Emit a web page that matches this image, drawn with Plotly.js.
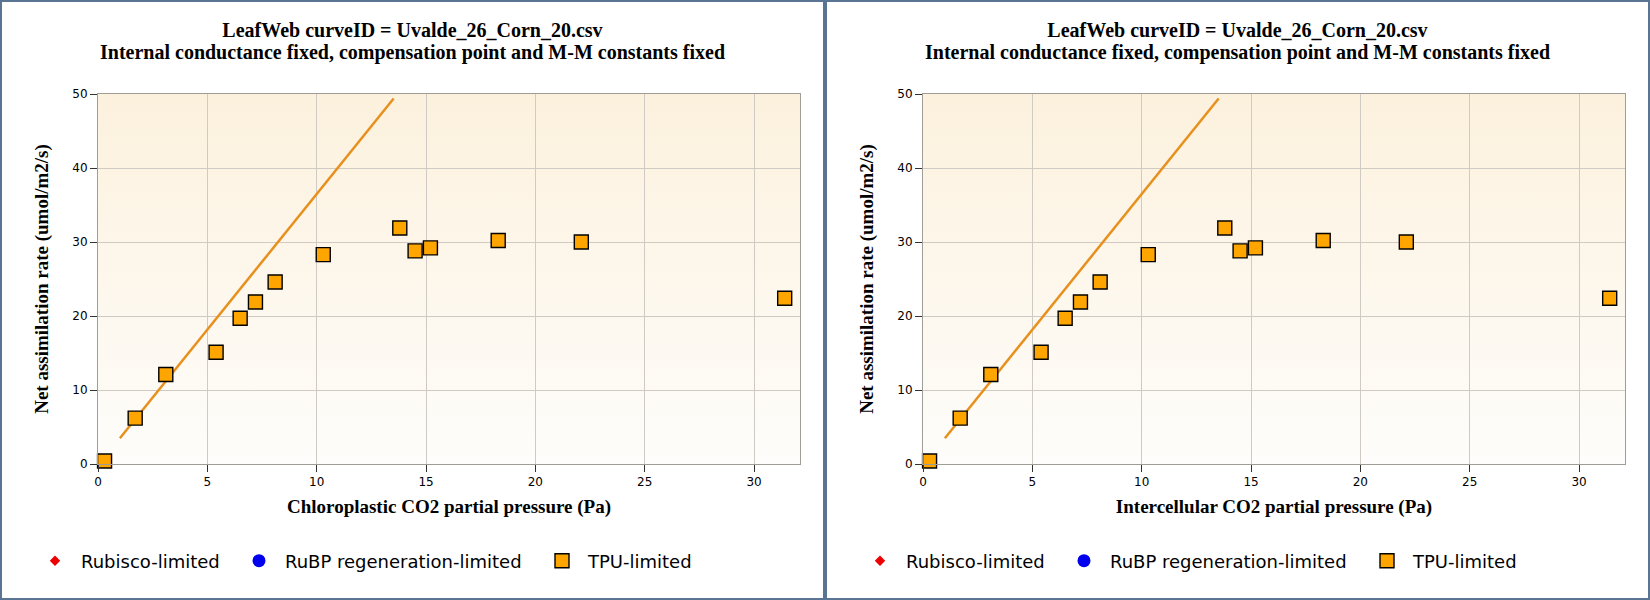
<!DOCTYPE html>
<html>
<head>
<meta charset="utf-8">
<script src="https://cdn.plot.ly/plotly-3.0.1.min.js"></script>
<style>
  html, body { margin: 0; padding: 0; background: #5a7494; }
  body { width: 1650px; height: 600px; position: relative; overflow: hidden; }
  .panel { position: absolute; top: 2px; width: 821px; height: 596px; background: #ffffff; }
  #left { left: 2px; }
  #right { left: 827px; }
</style>
</head>
<body>
<div id="left" class="panel"></div>
<div id="right" class="panel"></div>
<script>
// ---- data ----
const titleLine1 = "LeafWeb curveID = Uvalde_26_Corn_20.csv";
const titleLine2 = "Internal conductance fixed, compensation point and M-M constants fixed";
const yAxisTitle = "Net assimilation rate (umol/m2/s)";
const leftXTitle = "Chloroplastic CO2 partial pressure (Pa)";
const rightXTitle = "Intercellular CO2 partial pressure (Pa)";
const legendNames = ["Rubisco-limited", "RuBP regeneration-limited", "TPU-limited"];

// TPU-limited observations (left: Cc, right: Ci)
const ccObs = [0.3, 1.7, 3.1, 5.4, 6.5, 7.2, 8.1, 10.3, 13.8, 14.5, 15.2, 18.3, 22.1, 31.4];
const aObsLeft = [0.4, 6.2, 12.1, 15.1, 19.7, 21.9, 24.6, 28.3, 31.9, 28.8, 29.2, 30.2, 30.0, 22.4];
const ciObs = [0.3, 1.7, 3.1, 5.4, 6.5, 7.2, 8.1, 10.3, 13.8, 14.5, 15.2, 18.3, 22.1, 31.4];
const aObsRight = [0.4, 6.2, 12.1, 15.1, 19.7, 21.9, 24.6, 28.3, 31.9, 28.8, 29.2, 30.2, 30.0, 22.4];

// fitted curve (orange line)
const fitX = [1.0, 13.52];
const fitY = [3.47, 49.4];

const xTicks = [0, 5, 10, 15, 20, 25, 30];
const yTicks = [0, 10, 20, 30, 40, 50];

// ---- drawing ----
const W = 821, H = 596;
const gradSvg = '<svg xmlns="http://www.w3.org/2000/svg" width="10" height="100" preserveAspectRatio="none">' +
  '<defs><linearGradient id="g" x1="0" y1="0" x2="0" y2="1">' +
  '<stop offset="0" stop-color="#fcf1dd"/><stop offset="1" stop-color="#fefdfb"/></linearGradient></defs>' +
  '<rect width="10" height="100" fill="url(#g)"/></svg>';
const gradUri = 'data:image/svg+xml;base64,' + btoa(gradSvg);

function makeTraces(xs, ys) {
  return [
    { x: [null], y: [null], type: 'scatter', mode: 'markers', name: legendNames[0], legend: 'legend',
      marker: { symbol: 'diamond', size: 8, color: '#ee0000', line: { width: 0 } } },
    { x: [null], y: [null], type: 'scatter', mode: 'markers', name: legendNames[1], legend: 'legend2',
      marker: { symbol: 'circle', size: 13, color: '#0000ee', line: { width: 0 } } },
    { x: fitX, y: fitY, type: 'scatter', mode: 'lines', showlegend: false,
      line: { color: '#e8901e', width: 2.5 }, hoverinfo: 'skip' },
    { x: xs, y: ys, type: 'scatter', mode: 'markers', name: legendNames[2], legend: 'legend3', cliponaxis: false,
      marker: { symbol: 'square', size: 14, color: '#ffa500', line: { color: '#000000', width: 1.4 } } }
  ];
}

function legendAt(markerX) {
  return {
    orientation: 'h', xref: 'container', yref: 'container',
    x: (markerX - 26) / W, xanchor: 'left', y: 1 - 559 / H, yanchor: 'middle',
    itemwidth: 42,
    bgcolor: 'rgba(0,0,0,0)', borderwidth: 0,
    font: { family: 'DejaVu Sans', size: 18, color: '#000' },
    itemclick: false, itemdoubleclick: false
  };
}

function makeLayout(xTitle) {
  const axisFont = { family: 'Liberation Serif', size: 19, color: '#000', weight: 'bold' };
  return {
    width: W, height: H,
    paper_bgcolor: '#ffffff', plot_bgcolor: 'rgba(0,0,0,0)',
    margin: { l: 96, r: 23, t: 92, b: 134 },
    title: { text: titleLine1, x: 0.5, xref: 'container', xanchor: 'center',
      y: 1 - 28 / H, yref: 'container', yanchor: 'middle',
      font: { family: 'Liberation Serif', size: 20, color: '#000', weight: 'bold' } },
    annotations: [{ text: titleLine2, showarrow: false, xref: 'paper', yref: 'paper',
      x: (W / 2 - 96) / (W - 96 - 23), xanchor: 'center',
      y: (H - 134 - 50.5) / (H - 92 - 134), yanchor: 'middle',
      font: { family: 'Liberation Serif', size: 20, color: '#000', weight: 'bold' } }],
    images: [{ source: gradUri, xref: 'paper', yref: 'paper', x: 0, y: 1, sizex: 1, sizey: 1,
      sizing: 'stretch', layer: 'below', xanchor: 'left', yanchor: 'top' }],
    xaxis: {
      range: [0, 32.1], tickvals: xTicks, ticktext: xTicks.map(String),
      showgrid: true, gridcolor: '#cfcac4', gridwidth: 1, zeroline: false,
      showline: true, linecolor: '#a09c98', linewidth: 1, mirror: true,
      ticks: 'outside', ticklen: 7, tickcolor: '#333', tickwidth: 1,
      tickfont: { family: 'DejaVu Sans', size: 12, color: '#000' },
      title: { text: xTitle, font: axisFont, standoff: 11 },
      fixedrange: true
    },
    yaxis: {
      range: [0, 50], tickvals: yTicks, ticktext: yTicks.map(String),
      showgrid: true, gridcolor: '#cfcac4', gridwidth: 1, zeroline: false,
      showline: true, linecolor: '#a09c98', linewidth: 1, mirror: true,
      ticks: 'outside', ticklen: 7, tickcolor: '#333', tickwidth: 1,
      tickfont: { family: 'DejaVu Sans', size: 12, color: '#000' },
      title: { text: yAxisTitle, font: axisFont, standoff: 18 },
      fixedrange: true
    },
    showlegend: true,
    legend: legendAt(53),
    legend2: legendAt(257),
    legend3: legendAt(560),
    hovermode: false
  };
}

Plotly.newPlot('left', makeTraces(ccObs, aObsLeft), makeLayout(leftXTitle), { displayModeBar: false, staticPlot: true });
Plotly.newPlot('right', makeTraces(ciObs, aObsRight), makeLayout(rightXTitle), { displayModeBar: false, staticPlot: true });
</script>
</body>
</html>
